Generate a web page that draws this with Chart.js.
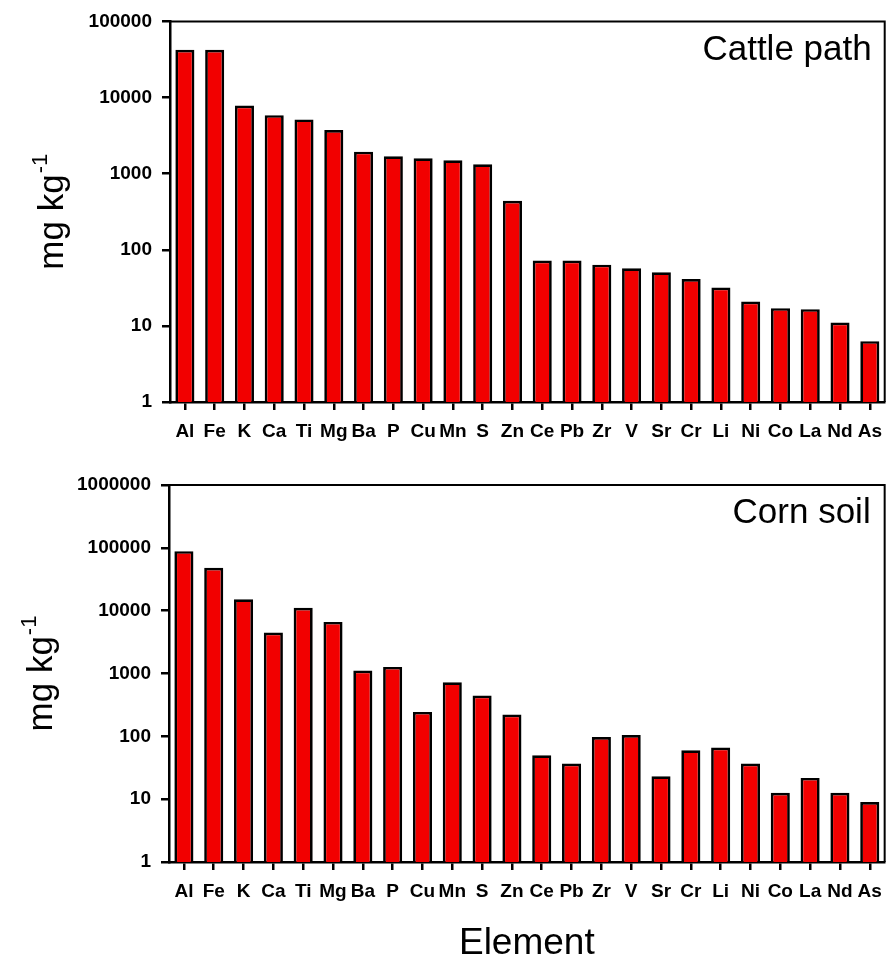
<!DOCTYPE html>
<html>
<head>
<meta charset="utf-8">
<script src="https://cdn.jsdelivr.net/npm/chart.js@4/dist/chart.umd.min.js"></script>
<style>
  html, body { margin: 0; padding: 0; background: #fff; }
  body { width: 892px; height: 961px; position: relative; overflow: hidden; }
  canvas { position: absolute; left: 0; }
  #cattle { top: 0; }
  #corn { top: 460px; }
</style>
</head>
<body>
<canvas id="cattle" width="892" height="460"></canvas>
<canvas id="corn" width="892" height="501"></canvas>
<script>
// Element concentrations (mg kg-1) for the two sampling sites
const elements = ['Al','Fe','K','Ca','Ti','Mg','Ba','P','Cu','Mn','S','Zn',
                  'Ce','Pb','Zr','V','Sr','Cr','Li','Ni','Co','La','Nd','As'];
const cattlePath = [42400, 42400, 7860, 5870, 5160, 3740, 1945, 1690, 1595, 1500, 1330, 441,
                    72.4, 72.4, 63.7, 57, 50.5, 41.3, 31.9, 20.9, 17.1, 16.6, 11.1, 6.3];
const cornSoil = [88600, 48000, 15200, 4500, 11100, 6630, 1117, 1274, 245, 727, 446, 222,
                  50, 36.9, 97.8, 105, 23.2, 60.1, 66.3, 36.9, 12.6, 21.8, 12.6, 9.0];
const cattleTicks = [1, 10, 100, 1000, 10000, 100000];
const cornTicks = [1, 10, 100, 1000, 10000, 100000, 1000000];

const FONT = '"Liberation Sans", Arial, Helvetica, sans-serif';

// Frame (top/right), panel label, rotated unit title and optional x title
const panelDecor = {
  id: 'panelDecor',
  afterDraw(chart, args, o) {
    const { ctx, chartArea: a } = chart;
    ctx.save();
    ctx.strokeStyle = '#000';
    ctx.lineWidth = 2;
    ctx.beginPath();
    ctx.moveTo(a.left, a.top);
    ctx.lineTo(a.right, a.top);
    ctx.lineTo(a.right, a.bottom);
    ctx.stroke();

    ctx.fillStyle = '#000';
    ctx.font = '35px ' + FONT;
    ctx.textAlign = 'right';
    ctx.textBaseline = 'alphabetic';
    ctx.fillText(o.label, a.right - o.labelInsetX, a.top + o.labelDropY);

    if (o.xTitle) {
      ctx.font = '37px ' + FONT;
      ctx.textAlign = 'center';
      ctx.fillText(o.xTitle, (a.left + a.right) / 2, o.xTitleY);
    }

    // unit title with superscript exponent, centred on the plot height
    ctx.font = '35px ' + FONT;
    const wMain = ctx.measureText(o.unit).width;
    ctx.font = '22px ' + FONT;
    const wSup = ctx.measureText(o.unitSup).width;
    const total = wMain + 1 + wSup;
    const cy = (a.top + a.bottom) / 2;
    ctx.translate(o.titleX, cy + total / 2);
    ctx.rotate(-Math.PI / 2);
    ctx.textAlign = 'left';
    ctx.font = '35px ' + FONT;
    ctx.fillText(o.unit, 0, 0);
    ctx.font = '22px ' + FONT;
    ctx.fillText(o.unitSup, wMain + 1, -16);
    ctx.restore();
  }
};

function makeChart(id, values, ticks, yMax, cfg) {
  return new Chart(document.getElementById(id), {
    type: 'bar',
    data: {
      labels: elements,
      datasets: [{
        data: values,
        backgroundColor: '#f20000',
        borderColor: '#000',
        borderWidth: 2.7,
        borderSkipped: 'start',
        categoryPercentage: 1,
        barPercentage: 0.64
      }]
    },
    options: {
      responsive: false,
      animation: false,
      devicePixelRatio: 1,
      layout: { padding: { top: cfg.padTop, right: cfg.padRight, left: 0, bottom: 0 } },
      plugins: {
        legend: { display: false },
        tooltip: { enabled: false },
        panelDecor: cfg.decor
      },
      scales: {
        x: {
          type: 'category',
          offset: true,
          grid: { offset: false, drawOnChartArea: false, drawTicks: true, tickLength: 8, color: '#000', lineWidth: 2.5 },
          border: { display: true, color: '#000', width: 2.5 },
          ticks: { color: '#000', font: { family: FONT, size: 19, weight: 'bold' }, padding: 10, autoSkip: false, maxRotation: 0, minRotation: 0 },
          afterFit(scale) { scale.height = cfg.xHeight; }
        },
        y: {
          type: 'logarithmic',
          min: 1,
          max: yMax,
          grid: { drawOnChartArea: false, drawTicks: true, tickLength: 8, color: '#000', lineWidth: 2.5 },
          border: { display: true, color: '#000', width: 2.5 },
          ticks: {
            color: '#000',
            font: { family: FONT, size: 19, weight: 'bold' },
            padding: 10,
            callback: (v) => String(v)
          },
          afterBuildTicks(scale) { scale.ticks = ticks.map(v => ({ value: v, major: true })); },
          afterFit(scale) { scale.width = cfg.yWidth; }
        }
      }
    },
    plugins: [panelDecor]
  });
}

makeChart('cattle', cattlePath, cattleTicks, 100000, {
  padTop: 20, padRight: 2, xHeight: 58, yWidth: 170,
  decor: { label: 'Cattle path', labelInsetX: 13, labelDropY: 39, unit: 'mg kg', unitSup: '-1', titleX: 63 }
});

makeChart('corn', cornSoil, cornTicks, 1000000, {
  padTop: 25, padRight: 5, xHeight: 99, yWidth: 169,
  decor: { label: 'Corn soil', labelInsetX: 14, labelDropY: 38, unit: 'mg kg', unitSup: '-1', titleX: 52,
           xTitle: 'Element', xTitleY: 494 }
});
</script>
</body>
</html>
